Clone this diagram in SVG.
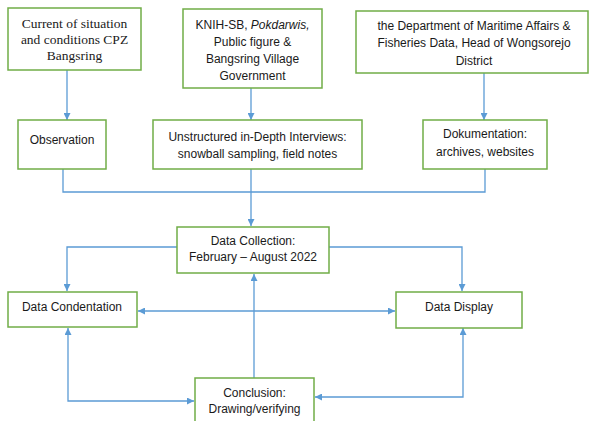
<svg xmlns="http://www.w3.org/2000/svg" width="589" height="421" viewBox="0 0 589 421">
<style>
.box{fill:#fff;stroke:#70AD47;stroke-width:1.5}
.t{font-family:"Liberation Sans",Arial,sans-serif;font-size:12px;fill:#1a1a1a;text-anchor:middle}
.s{font-family:"Liberation Serif","Times New Roman",serif;font-size:13.5px;fill:#1a1a1a;text-anchor:middle}
.c{fill:none;stroke:#5B9BD5;stroke-width:1.3}
</style>
<defs>
<marker id="a" viewBox="0 0 10 10" refX="10" refY="5" markerWidth="7" markerHeight="7" orient="auto-start-reverse" markerUnits="userSpaceOnUse">
<path d="M0,0 L10,5 L0,10 z" fill="#5B9BD5"/>
</marker>
</defs>
<rect width="589" height="421" fill="#fff"/>
<g id="connectors">
<line class="c" x1="67" y1="70" x2="67" y2="120" marker-end="url(#a)"/>
<line class="c" x1="251" y1="88" x2="251" y2="120" marker-end="url(#a)"/>
<line class="c" x1="484" y1="73" x2="484" y2="120" marker-end="url(#a)"/>
<polyline class="c" points="63,169 63,192 485,192 485,169"/>
<line class="c" x1="251" y1="169" x2="251" y2="226" marker-end="url(#a)"/>
<polyline class="c" points="177,247 67,247 67,291" marker-end="url(#a)"/>
<polyline class="c" points="329,247 462,247 462,291" marker-end="url(#a)"/>
<line class="c" x1="138" y1="311" x2="395" y2="311" marker-start="url(#a)" marker-end="url(#a)"/>
<line class="c" x1="254" y1="378" x2="254" y2="274" marker-end="url(#a)"/>
<polyline class="c" points="68,328 68,401 194,401" marker-start="url(#a)" marker-end="url(#a)"/>
<polyline class="c" points="463,328 463,397 315,397" marker-start="url(#a)" marker-end="url(#a)"/>
</g>
<g id="n1">
<rect class="box" x="8" y="8" width="133" height="62"/>
<text class="s" x="74.5" y="28">Current of situation</text>
<text class="s" x="74.5" y="44">and conditions CPZ</text>
<text class="s" x="74.5" y="60">Bangsring</text>
</g>
<g id="n2">
<rect class="box" x="183" y="9" width="139" height="79"/>
<text class="t" x="252.5" y="29">KNIH-SB, <tspan font-style="italic">Pokdarwis,</tspan></text>
<text class="t" x="252.5" y="46">Public figure &amp;</text>
<text class="t" x="252.5" y="63">Bangsring Village</text>
<text class="t" x="252.5" y="80">Government</text>
</g>
<g id="n3">
<rect class="box" x="356" y="11" width="232" height="62"/>
<text class="t" x="474" y="30">the Department of Maritime Affairs &amp;</text>
<text class="t" x="474" y="47">Fisheries Data, Head of Wongsorejo</text>
<text class="t" x="474" y="65">District</text>
</g>
<g id="n4">
<rect class="box" x="18" y="120" width="88" height="49"/>
<text class="t" x="62" y="144">Observation</text>
</g>
<g id="n5">
<rect class="box" x="153" y="120" width="209" height="49"/>
<text class="t" x="257.5" y="141">Unstructured in-Depth Interviews:</text>
<text class="t" x="257.5" y="158">snowball sampling, field notes</text>
</g>
<g id="n6">
<rect class="box" x="423" y="120" width="124" height="49"/>
<text class="t" x="485" y="138">Dokumentation:</text>
<text class="t" x="485" y="156">archives, websites</text>
</g>
<g id="n7">
<rect class="box" x="177" y="227" width="152" height="46"/>
<text class="t" x="253" y="245">Data Collection:</text>
<text class="t" x="253" y="261">February – August 2022</text>
</g>
<g id="n8">
<rect class="box" x="8" y="292" width="129" height="35"/>
<text class="t" x="72" y="311">Data Condentation</text>
</g>
<g id="n9">
<rect class="box" x="396" y="292" width="126" height="36"/>
<text class="t" x="459" y="311">Data Display</text>
</g>
<g id="n10">
<rect class="box" x="195" y="378" width="119" height="50"/>
<text class="t" x="254.5" y="397">Conclusion:</text>
<text class="t" x="254.5" y="413">Drawing/verifying</text>
</g>
</svg>
